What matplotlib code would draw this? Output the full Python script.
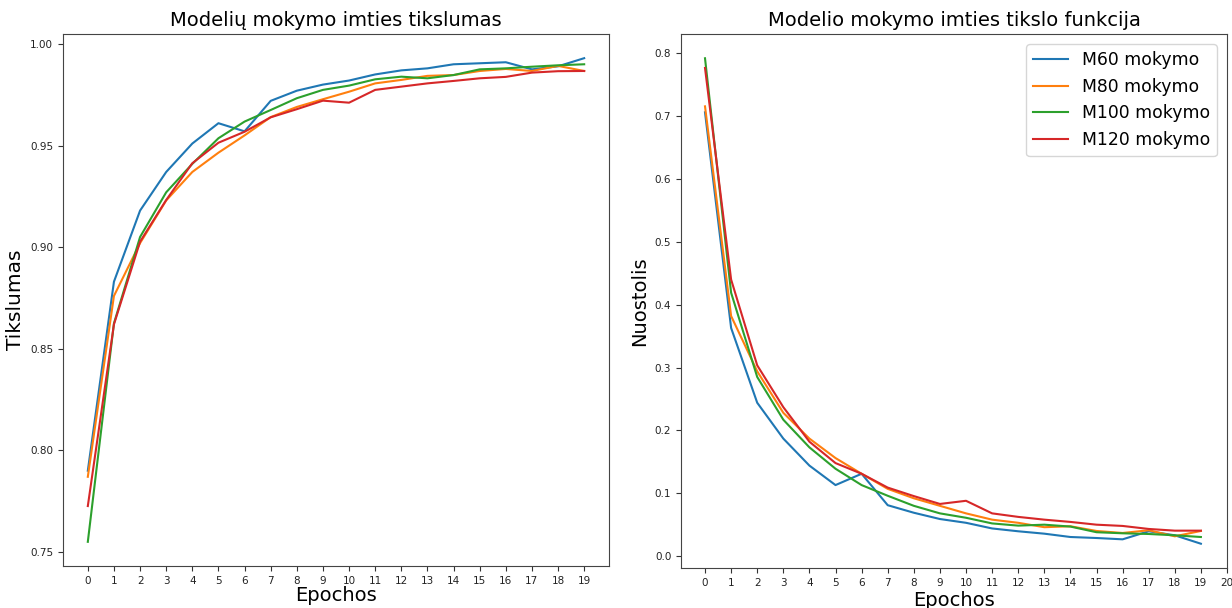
import matplotlib
matplotlib.use("Agg")
import matplotlib.pyplot as plt

epochs = list(range(20))

acc_m60 = [0.790, 0.883, 0.918, 0.937, 0.951, 0.961, 0.957, 0.972, 0.977, 0.980,
           0.982, 0.985, 0.987, 0.988, 0.990, 0.9905, 0.991, 0.9875, 0.989, 0.993]
acc_m80 = [0.787, 0.876, 0.902, 0.923, 0.937, 0.9465, 0.955, 0.964, 0.969, 0.9728,
           0.9765, 0.9806, 0.9823, 0.9843, 0.9847, 0.9867, 0.9877, 0.9867, 0.9892, 0.9867]
acc_m100 = [0.755, 0.8625, 0.905, 0.927, 0.941, 0.9536, 0.9618, 0.9675, 0.9733, 0.9774,
            0.9795, 0.9826, 0.9839, 0.9831, 0.9847, 0.9875, 0.988, 0.9888, 0.9895, 0.990]
acc_m120 = [0.7726, 0.862, 0.9027, 0.9232, 0.9413, 0.9514, 0.9568, 0.9639, 0.9679, 0.9721,
            0.9711, 0.9774, 0.979, 0.9806, 0.9818, 0.9831, 0.9838, 0.9859, 0.9866, 0.9867]

loss_m60 = [0.706, 0.363, 0.244, 0.187, 0.144, 0.113, 0.131, 0.081, 0.069, 0.059,
            0.053, 0.044, 0.0395, 0.0357, 0.0304, 0.0288, 0.0267, 0.0395, 0.0331, 0.0197]
loss_m80 = [0.7155, 0.382, 0.294, 0.228, 0.187, 0.156, 0.131, 0.107, 0.092, 0.080,
            0.068, 0.058, 0.053, 0.046, 0.0475, 0.040, 0.0368, 0.0411, 0.0315, 0.040]
loss_m100 = [0.792, 0.419, 0.285, 0.217, 0.173, 0.139, 0.113, 0.096, 0.080, 0.068,
             0.061, 0.052, 0.0485, 0.050, 0.047, 0.038, 0.0363, 0.0352, 0.0331, 0.0304]
loss_m120 = [0.7766, 0.440, 0.3035, 0.237, 0.182, 0.148, 0.131, 0.109, 0.0955, 0.083,
             0.088, 0.068, 0.0624, 0.058, 0.0544, 0.050, 0.048, 0.0432, 0.0405, 0.0405]

labels = ["M60 mokymo", "M80 mokymo", "M100 mokymo", "M120 mokymo"]
colors = ["#1f77b4", "#ff7f0e", "#2ca02c", "#d62728"]

W, H = 1232, 608
fig = plt.figure(figsize=(W / 100, H / 100), dpi=100)

ax1 = fig.add_axes([63 / W, 1 - 566 / H, (609 - 63) / W, (566 - 34) / H])
ax2 = fig.add_axes([681 / W, 1 - 568 / H, (1227 - 681) / W, (568 - 34) / H])

for ys, lab, c in zip([acc_m60, acc_m80, acc_m100, acc_m120], labels, colors):
    ax1.plot(epochs, ys, color=c, lw=1.5, label=lab)
for ys, lab, c in zip([loss_m60, loss_m80, loss_m100, loss_m120], labels, colors):
    ax2.plot(epochs, ys, color=c, lw=1.5, label=lab)

ax1.set_xticks(range(20))
ax1.set_yticks([0.75, 0.80, 0.85, 0.90, 0.95, 1.00])
ax1.set_yticklabels(["0.75", "0.80", "0.85", "0.90", "0.95", "1.00"])
ax1.set_title("Modelių mokymo imties tikslumas", fontsize=14)
ax1.set_xlabel("Epochos", fontsize=14, labelpad=0)
ax1.set_ylabel("Tikslumas", fontsize=14.5)

ax2.set_xticks(range(21))
ax2.set_xlim(-0.92, 20)
ax2.set_yticks([0.0, 0.1, 0.2, 0.3, 0.4, 0.5, 0.6, 0.7, 0.8])
ax2.set_title("Modelio mokymo imties tikslo funkcija", fontsize=14)
ax2.set_xlabel("Epochos", fontsize=14, labelpad=2)
ax2.set_ylabel("Nuostolis", fontsize=14)
ax2.legend(loc="upper right", fontsize=12.4, borderaxespad=0.6)

for ax in (ax1, ax2):
    ax.tick_params(labelsize=7.5, color="#333333", labelcolor="#222222")
    for s in ax.spines.values():
        s.set_color("#444444")

fig.savefig("out.png", dpi=100)
